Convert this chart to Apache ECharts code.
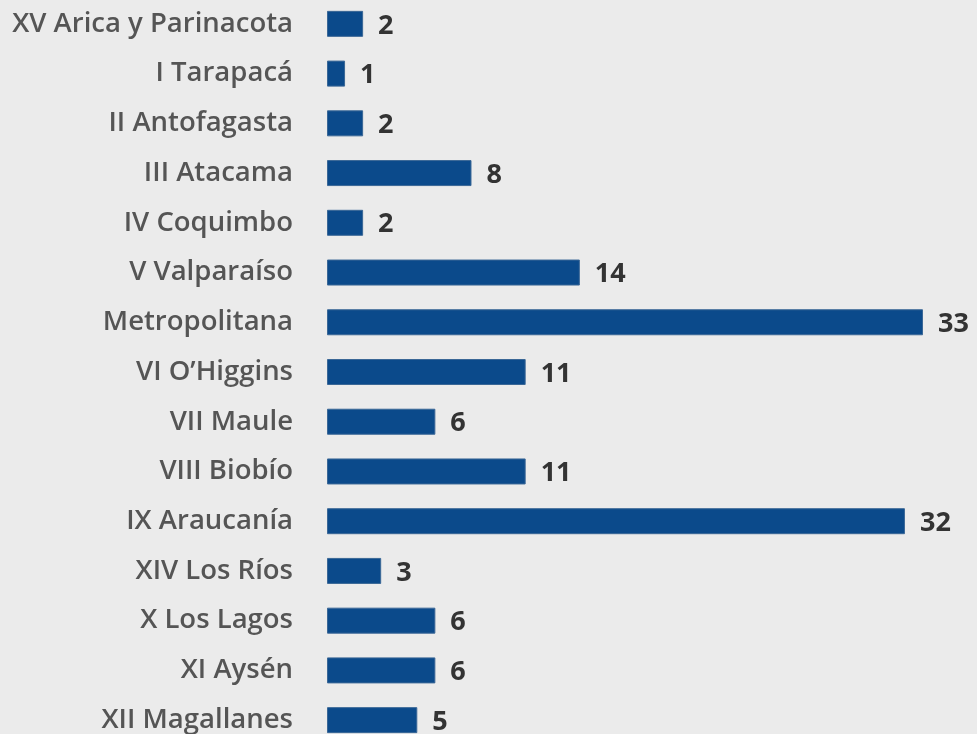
<!DOCTYPE html>
<html>
<head>
<meta charset="utf-8">
<style>
  html, body { margin: 0; padding: 0; background: #ebebeb; }
  #chart { width: 977px; height: 734px; }
</style>
<script src="https://cdn.jsdelivr.net/npm/echarts@6/dist/echarts.min.js"></script>
</head>
<body>
<div id="chart"></div>
<script>
// regiones, de norte a sur
var regions = [
  'XV Arica y Parinacota', 'I Tarapacá', 'II Antofagasta', 'III Atacama',
  'IV Coquimbo', 'V Valparaíso', 'Metropolitana', 'VI O\u2019Higgins',
  'VII Maule', 'VIII Biobío', 'IX Araucanía', 'XIV Los Ríos',
  'X Los Lagos', 'XI Aysén', 'XII Magallanes'
];
var counts = [2, 1, 2, 8, 2, 14, 33, 11, 6, 11, 32, 3, 6, 6, 5];

var chart = echarts.init(document.getElementById('chart'));

chart.setOption({
  backgroundColor: '#ebebeb',
  animation: false,
  grid: { left: 327, right: 54, top: -1, height: 746, outerBoundsMode: 'none' },
  xAxis: {
    type: 'value',
    min: 0,
    max: 33,
    show: false
  },
  yAxis: {
    type: 'category',
    inverse: true,
    data: regions,
    axisLine: { show: false },
    axisTick: { show: false },
    splitLine: { show: false },
    axisLabel: {
      margin: 34,
      color: '#555555',
      fontFamily: 'Open Sans',
      fontWeight: 600,
      fontSize: 27.5
    }
  },
  series: [{
    type: 'bar',
    data: counts,
    barWidth: 26,
    itemStyle: {
      color: '#0b4a8b',
      borderColor: '#3a6796',
      borderWidth: 1
    },
    label: {
      show: true,
      position: 'right',
      distance: 15,
      offset: [0, 2],
      color: '#333333',
      fontFamily: 'Open Sans',
      fontWeight: 'bold',
      fontSize: 27
    }
  }]
});
</script>
</body>
</html>
